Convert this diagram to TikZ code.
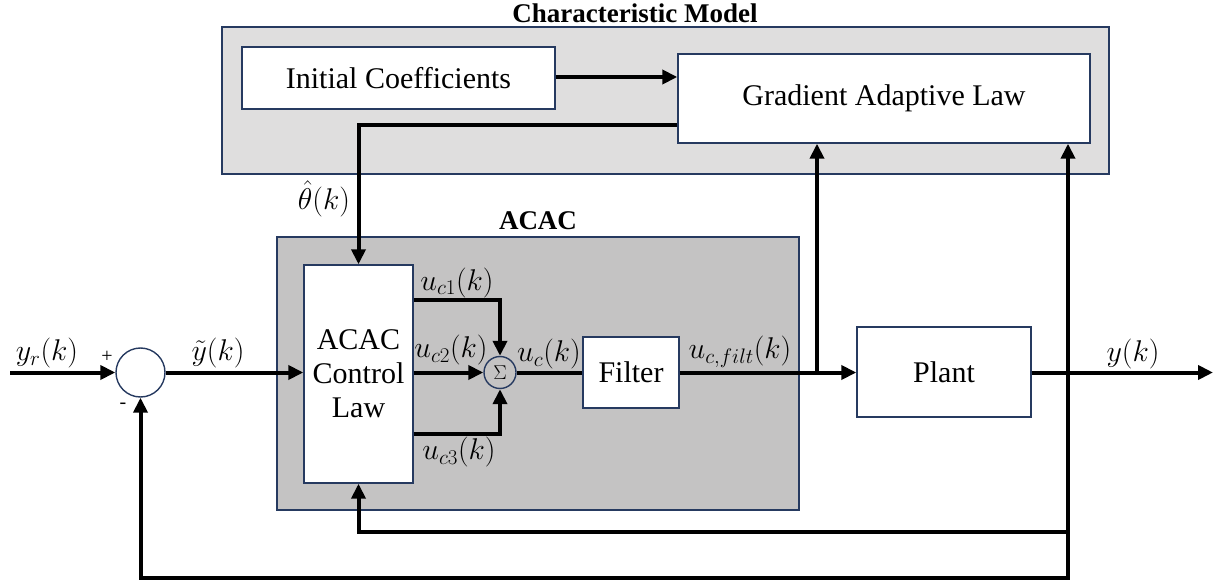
\documentclass[tikz,border=0pt]{standalone}
\usepackage{fix-cm}
\usepackage{fontspec}
\setmainfont{Liberation Serif}
\usetikzlibrary{arrows.meta}
\definecolor{boxc}{RGB}{38,58,96}
\definecolor{cmfill}{RGB}{223,222,222}
\definecolor{acfill}{RGB}{196,195,195}
\tikzset{
  blk/.style={draw=boxc, line width=1.4pt, fill=white, inner sep=0pt, align=center,
    font=\fontsize{30}{34}\selectfont},
  grp/.style={draw=boxc, line width=1.4pt, inner sep=0pt},
  conn/.style={line width=4pt, draw=black},
  tip/.tip={Triangle[length=15pt,width=14pt]},
  arr/.style={conn, -tip},
  lbl/.style={inner sep=0pt, font=\fontsize{30}{32}\selectfont},
  ttl/.style={inner sep=0pt, font=\fontsize{27}{30}\selectfont\bfseries},
  sgn/.style={inner sep=0pt, font=\fontsize{20}{22}\selectfont}
}
\begin{document}
\begin{tikzpicture}[x=1pt,y=-1pt]
\useasboundingbox (0,0) rectangle (1215,588);
% group boxes
\node[grp, fill=cmfill, minimum width=887pt, minimum height=147pt] (cm) at (665.5,100.5) {};
\node[grp, fill=acfill, minimum width=522pt, minimum height=273pt] (acac) at (538,373.5) {};
\node[ttl] (cmt) at (635,13) {Characteristic Model};
\node[ttl] (act) at (538,221) {ACAC};
% blocks
\node[blk, minimum width=313pt, minimum height=62pt] (init) at (398.5,78) {Initial Coefficients};
\node[blk, minimum width=412pt, minimum height=89pt] (grad) at (884,98.5) {Gradient Adaptive Law};
\node[blk, minimum width=109pt, minimum height=218pt] (cl) at (358.5,374) {ACAC\\Control\\Law};
\node[blk, minimum width=96pt, minimum height=71pt] (filt) at (631,372.5) {Filter};
\node[blk, minimum width=174pt, minimum height=90pt] (plant) at (944,372) {Plant};
\node[circle, draw=boxc, line width=1.4pt, fill=white, minimum size=49pt, inner sep=0pt] (s1) at (140.5,372.5) {};
\node[circle, draw=boxc, line width=1.4pt, minimum size=32pt, inner sep=0pt,
  font=\fontsize{20}{22}\selectfont] (sig) at (500,372.5) {$\Sigma$};
% coordinates
\coordinate (in) at (10,372.5);
\coordinate (out) at (1213,372.5);
\coordinate (thc) at (358.5,125);
\coordinate (u1) at (500,300);
\coordinate (u3) at (500,434);
\coordinate (b1) at (817,372.5);
\coordinate (b2) at (1068,372.5);
\coordinate (fb1) at (1068,532);
\coordinate (fb2) at (1068,578);
% connectors
\draw[arr] (init.east |- 0,77) -- (grad.west |- 0,77);
\draw[arr] (grad.west |- thc) -- (thc) -- (cl.north);
\draw[arr] (in) -- (s1.west);
\draw[arr] (s1.east) -- (cl.west |- s1.east);
\draw[arr] (cl.east |- u1) -- (u1) -- (sig.north);
\draw[arr] (cl.east |- sig.west) -- (sig.west);
\draw[arr] (cl.east |- u3) -- (u3) -- (sig.south);
\draw[conn] (sig.east) -- (filt.west |- sig.east);
\draw[arr] (filt.east |- b1) -- (plant.west |- b1);
\draw[arr] (b1) -- (grad.south -| b1);
\draw[arr] (plant.east |- b2) -- (out);
\draw[tip-tip, conn] (grad.south -| fb2) -- (fb2) -| (s1.south);
\draw[arr] (fb1) -| (cl.south);
% labels
\node[lbl] (lyr) at (47,353) {$y_r(k)$};
\node[lbl] (lyt) at (218,353) {$\tilde{y}(k)$};
\node[sgn] (lp) at (107,357) {+};
\node[sgn] (lm) at (123,406) {-};
\node[lbl] (lth) at (324,199) {$\hat{\theta}(k)$};
\node[lbl] (lu1) at (457,283) {$u_{c1}(k)$};
\node[lbl] (lu2) at (451,350) {$u_{c2}(k)$};
\node[lbl] (lu3) at (459,452) {$u_{c3}(k)$};
\node[lbl] (luc) at (549,354) {$u_c(k)$};
\node[lbl] (luf) at (740,352) {$u_{c,filt}(k)$};
\node[lbl] (ly) at (1133,354) {$y(k)$};
\end{tikzpicture}
\end{document}
